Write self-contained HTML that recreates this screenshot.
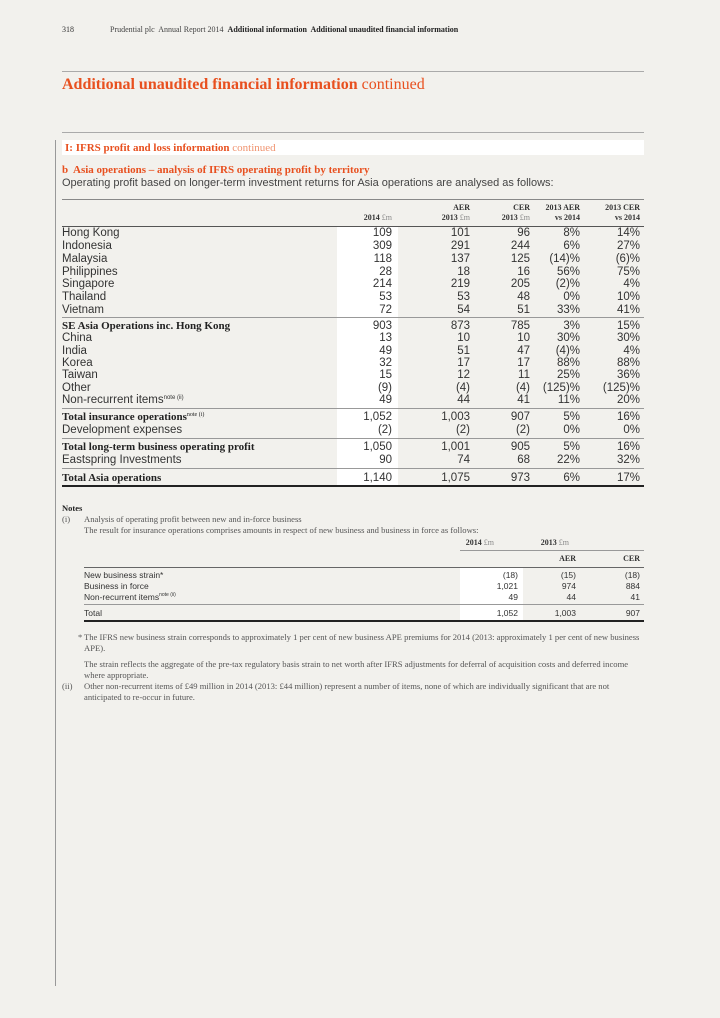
<!DOCTYPE html>
<html><head><meta charset="utf-8"><style>
body{margin:0;background:#f2f1ed;}
#p{position:relative;width:720px;height:1018px;background:#f2f1ed;font-family:"Liberation Sans",sans-serif;color:#333;overflow:hidden}
.t{position:absolute;height:14px;line-height:14px;white-space:nowrap}
.n{position:absolute;height:14px;line-height:14px;white-space:nowrap;text-align:right;font-size:11px}
.s{font-family:"Liberation Serif",serif;font-weight:bold}
.h{position:absolute;background:#999;height:1px}
.o{color:#e8501f}
.r{font-size:11.5px}
.f{font-family:"Liberation Serif",serif;font-size:8.6px;color:#555}
sup{line-height:0;vertical-align:4px}
</style></head><body><div id="p">
<div class="t" style="left:62px;top:23px;font-size:8px;font-family:'Liberation Serif',serif;color:#333">318</div>
<div class="t" style="left:110px;top:23px;font-size:8px;font-family:'Liberation Serif',serif;color:#444">Prudential plc&nbsp; Annual Report 2014&nbsp; <b style="color:#222">Additional information&nbsp; Additional unaudited financial information</b></div>
<div class="h" style="left:62px;top:71px;width:582px;background:#aaa"></div>
<div class="t o" style="left:62px;top:75px;height:20px;line-height:20px;font-size:16px;font-family:'Liberation Serif',serif"><b>Additional unaudited financial information</b> continued</div>
<div class="h" style="left:62px;top:132px;width:582px;background:#aaa"></div>
<div style="position:absolute;left:55px;top:140px;width:1px;height:846px;background:#999"></div>
<div style="position:absolute;left:62px;top:140px;width:582px;height:15px;background:#fff"></div>
<div class="t o" style="left:65px;top:141px;font-size:11px;font-family:'Liberation Serif',serif"><b>I: IFRS profit and loss information</b> <span style="color:#f0936f">continued</span></div>
<div class="t o s" style="left:62px;top:163px;font-size:11px">b&nbsp; Asia operations – analysis of IFRS operating profit by territory</div>
<div class="t" style="left:62px;top:176px;font-size:11px;color:#444">Operating profit based on longer-term investment returns for Asia operations are analysed as follows:</div>
<div class="h" style="left:62px;top:199px;width:582px;background:#888"></div>
<div style="position:absolute;left:337px;top:227px;width:61px;height:260px;background:#fff"></div>
<div class="n s" style="right:250px;top:201px;font-size:8px;color:#333">AER</div>
<div class="n s" style="right:190px;top:201px;font-size:8px;color:#333">CER</div>
<div class="n s" style="right:140px;top:201px;font-size:8px;color:#333">2013 AER</div>
<div class="n s" style="right:80px;top:201px;font-size:8px;color:#333">2013 CER</div>
<div class="n" style="right:328px;top:211px;font-size:8px;font-family:'Liberation Serif',serif"><b>2014</b> <span style="color:#888">£m</span></div>
<div class="n" style="right:250px;top:211px;font-size:8px;font-family:'Liberation Serif',serif"><b>2013</b> <span style="color:#888">£m</span></div>
<div class="n" style="right:190px;top:211px;font-size:8px;font-family:'Liberation Serif',serif"><b>2013</b> <span style="color:#888">£m</span></div>
<div class="n s" style="right:140px;top:211px;font-size:8px">vs 2014</div>
<div class="n s" style="right:80px;top:211px;font-size:8px">vs 2014</div>
<div class="h" style="left:62px;top:226px;width:582px;background:#555"></div>

<div class="h" style="left:62px;top:317px;width:582px"></div>
<div class="h" style="left:62px;top:408px;width:582px"></div>
<div class="h" style="left:62px;top:438px;width:582px"></div>
<div class="h" style="left:62px;top:468px;width:582px"></div>
<div class="h" style="left:62px;top:485px;width:582px;height:2px;background:#222"></div>

<div class="t s" style="left:62px;top:501px;font-size:8.5px;color:#222">Notes</div>
<div class="t f" style="left:62px;top:512px">(i)</div>
<div class="t f" style="left:84px;top:512px">Analysis of operating profit between new and in-force business</div>
<div class="t f" style="left:84px;top:523px">The result for insurance operations comprises amounts in respect of new business and business in force as follows:</div>
<div style="position:absolute;left:460px;top:568px;width:63px;height:54px;background:#fff"></div>
<div class="n" style="right:226px;top:536px;font-size:8px;font-family:'Liberation Serif',serif"><b>2014</b> <span style="color:#888">£m</span></div>
<div class="n" style="right:151px;top:536px;font-size:8px;font-family:'Liberation Serif',serif"><b>2013</b> <span style="color:#888">£m</span></div>
<div class="h" style="left:460px;top:550px;width:184px"></div>
<div class="n s" style="right:144px;top:552px;font-size:8px">AER</div>
<div class="n s" style="right:80px;top:552px;font-size:8px">CER</div>
<div class="h" style="left:84px;top:567px;width:560px;background:#666"></div>
<div class="t" style="left:84px;top:568px;font-size:8.5px">New business strain*</div>
<div class="t" style="left:84px;top:579px;font-size:8.5px">Business in force</div>
<div class="t" style="left:84px;top:590px;font-size:8.5px">Non-recurrent items<sup style="font-size:5px">note (ii)</sup></div>
<div class="n" style="right:202px;top:568px;font-size:8.5px">(18)</div><div class="n" style="right:144px;top:568px;font-size:8.5px">(15)</div><div class="n" style="right:80px;top:568px;font-size:8.5px">(18)</div>
<div class="n" style="right:202px;top:579px;font-size:8.5px">1,021</div><div class="n" style="right:144px;top:579px;font-size:8.5px">974</div><div class="n" style="right:80px;top:579px;font-size:8.5px">884</div>
<div class="n" style="right:202px;top:590px;font-size:8.5px">49</div><div class="n" style="right:144px;top:590px;font-size:8.5px">44</div><div class="n" style="right:80px;top:590px;font-size:8.5px">41</div>
<div class="h" style="left:84px;top:604px;width:560px"></div>
<div class="t" style="left:84px;top:606px;font-size:8.5px">Total</div>
<div class="n" style="right:202px;top:606px;font-size:8.5px">1,052</div><div class="n" style="right:144px;top:606px;font-size:8.5px">1,003</div><div class="n" style="right:80px;top:606px;font-size:8.5px">907</div>
<div class="h" style="left:84px;top:620px;width:560px;height:2px;background:#222"></div>

<div class="t f" style="left:78px;top:630px">*</div>
<div class="t f" style="left:84px;top:630px">The IFRS new business strain corresponds to approximately 1 per cent of new business APE premiums for 2014 (2013: approximately 1 per cent of new business</div>
<div class="t f" style="left:84px;top:641px">APE).</div>
<div class="t f" style="left:84px;top:657px">The strain reflects the aggregate of the pre-tax regulatory basis strain to net worth after IFRS adjustments for deferral of acquisition costs and deferred income</div>
<div class="t f" style="left:84px;top:668px">where appropriate.</div>
<div class="t f" style="left:62px;top:679px">(ii)</div>
<div class="t f" style="left:84px;top:679px">Other non-recurrent items of £49 million in 2014 (2013: £44 million) represent a number of items, none of which are individually significant that are not</div>
<div class="t f" style="left:84px;top:690px">anticipated to re-occur in future.</div>

<div class="t r" style="left:62px;top:226px">Hong Kong</div><div class="n r" style="right:328px;top:226px">109</div><div class="n r" style="right:250px;top:226px">101</div><div class="n r" style="right:190px;top:226px">96</div><div class="n r" style="right:140px;top:226px">8%</div><div class="n r" style="right:80px;top:226px">14%</div>
<div class="t r" style="left:62px;top:239px">Indonesia</div><div class="n r" style="right:328px;top:239px">309</div><div class="n r" style="right:250px;top:239px">291</div><div class="n r" style="right:190px;top:239px">244</div><div class="n r" style="right:140px;top:239px">6%</div><div class="n r" style="right:80px;top:239px">27%</div>
<div class="t r" style="left:62px;top:252px">Malaysia</div><div class="n r" style="right:328px;top:252px">118</div><div class="n r" style="right:250px;top:252px">137</div><div class="n r" style="right:190px;top:252px">125</div><div class="n r" style="right:140px;top:252px">(14)%</div><div class="n r" style="right:80px;top:252px">(6)%</div>
<div class="t r" style="left:62px;top:265px">Philippines</div><div class="n r" style="right:328px;top:265px">28</div><div class="n r" style="right:250px;top:265px">18</div><div class="n r" style="right:190px;top:265px">16</div><div class="n r" style="right:140px;top:265px">56%</div><div class="n r" style="right:80px;top:265px">75%</div>
<div class="t r" style="left:62px;top:277px">Singapore</div><div class="n r" style="right:328px;top:277px">214</div><div class="n r" style="right:250px;top:277px">219</div><div class="n r" style="right:190px;top:277px">205</div><div class="n r" style="right:140px;top:277px">(2)%</div><div class="n r" style="right:80px;top:277px">4%</div>
<div class="t r" style="left:62px;top:290px">Thailand</div><div class="n r" style="right:328px;top:290px">53</div><div class="n r" style="right:250px;top:290px">53</div><div class="n r" style="right:190px;top:290px">48</div><div class="n r" style="right:140px;top:290px">0%</div><div class="n r" style="right:80px;top:290px">10%</div>
<div class="t r" style="left:62px;top:303px">Vietnam</div><div class="n r" style="right:328px;top:303px">72</div><div class="n r" style="right:250px;top:303px">54</div><div class="n r" style="right:190px;top:303px">51</div><div class="n r" style="right:140px;top:303px">33%</div><div class="n r" style="right:80px;top:303px">41%</div>
<div class="t r s" style="left:62px;top:319px;font-size:11px;color:#222">SE Asia Operations inc. Hong Kong</div><div class="n r" style="right:328px;top:319px">903</div><div class="n r" style="right:250px;top:319px">873</div><div class="n r" style="right:190px;top:319px">785</div><div class="n r" style="right:140px;top:319px">3%</div><div class="n r" style="right:80px;top:319px">15%</div>
<div class="t r" style="left:62px;top:331px">China</div><div class="n r" style="right:328px;top:331px">13</div><div class="n r" style="right:250px;top:331px">10</div><div class="n r" style="right:190px;top:331px">10</div><div class="n r" style="right:140px;top:331px">30%</div><div class="n r" style="right:80px;top:331px">30%</div>
<div class="t r" style="left:62px;top:344px">India</div><div class="n r" style="right:328px;top:344px">49</div><div class="n r" style="right:250px;top:344px">51</div><div class="n r" style="right:190px;top:344px">47</div><div class="n r" style="right:140px;top:344px">(4)%</div><div class="n r" style="right:80px;top:344px">4%</div>
<div class="t r" style="left:62px;top:356px">Korea</div><div class="n r" style="right:328px;top:356px">32</div><div class="n r" style="right:250px;top:356px">17</div><div class="n r" style="right:190px;top:356px">17</div><div class="n r" style="right:140px;top:356px">88%</div><div class="n r" style="right:80px;top:356px">88%</div>
<div class="t r" style="left:62px;top:368px">Taiwan</div><div class="n r" style="right:328px;top:368px">15</div><div class="n r" style="right:250px;top:368px">12</div><div class="n r" style="right:190px;top:368px">11</div><div class="n r" style="right:140px;top:368px">25%</div><div class="n r" style="right:80px;top:368px">36%</div>
<div class="t r" style="left:62px;top:381px">Other</div><div class="n r" style="right:328px;top:381px">(9)</div><div class="n r" style="right:250px;top:381px">(4)</div><div class="n r" style="right:190px;top:381px">(4)</div><div class="n r" style="right:140px;top:381px">(125)%</div><div class="n r" style="right:80px;top:381px">(125)%</div>
<div class="t r" style="left:62px;top:393px">Non-recurrent items<sup style="font-size:6px">note (ii)</sup></div><div class="n r" style="right:328px;top:393px">49</div><div class="n r" style="right:250px;top:393px">44</div><div class="n r" style="right:190px;top:393px">41</div><div class="n r" style="right:140px;top:393px">11%</div><div class="n r" style="right:80px;top:393px">20%</div>
<div class="t r s" style="left:62px;top:410px;font-size:11px;color:#222">Total insurance operations<sup style="font-size:6px;font-weight:normal">note (i)</sup></div><div class="n r" style="right:328px;top:410px">1,052</div><div class="n r" style="right:250px;top:410px">1,003</div><div class="n r" style="right:190px;top:410px">907</div><div class="n r" style="right:140px;top:410px">5%</div><div class="n r" style="right:80px;top:410px">16%</div>
<div class="t r" style="left:62px;top:423px">Development expenses</div><div class="n r" style="right:328px;top:423px">(2)</div><div class="n r" style="right:250px;top:423px">(2)</div><div class="n r" style="right:190px;top:423px">(2)</div><div class="n r" style="right:140px;top:423px">0%</div><div class="n r" style="right:80px;top:423px">0%</div>
<div class="t r s" style="left:62px;top:440px;font-size:11px;color:#222">Total long-term business operating profit</div><div class="n r" style="right:328px;top:440px">1,050</div><div class="n r" style="right:250px;top:440px">1,001</div><div class="n r" style="right:190px;top:440px">905</div><div class="n r" style="right:140px;top:440px">5%</div><div class="n r" style="right:80px;top:440px">16%</div>
<div class="t r" style="left:62px;top:453px">Eastspring Investments</div><div class="n r" style="right:328px;top:453px">90</div><div class="n r" style="right:250px;top:453px">74</div><div class="n r" style="right:190px;top:453px">68</div><div class="n r" style="right:140px;top:453px">22%</div><div class="n r" style="right:80px;top:453px">32%</div>
<div class="t r s" style="left:62px;top:471px;font-size:11px;color:#222">Total Asia operations</div><div class="n r" style="right:328px;top:471px">1,140</div><div class="n r" style="right:250px;top:471px">1,075</div><div class="n r" style="right:190px;top:471px">973</div><div class="n r" style="right:140px;top:471px">6%</div><div class="n r" style="right:80px;top:471px">17%</div>
</div></body></html>
